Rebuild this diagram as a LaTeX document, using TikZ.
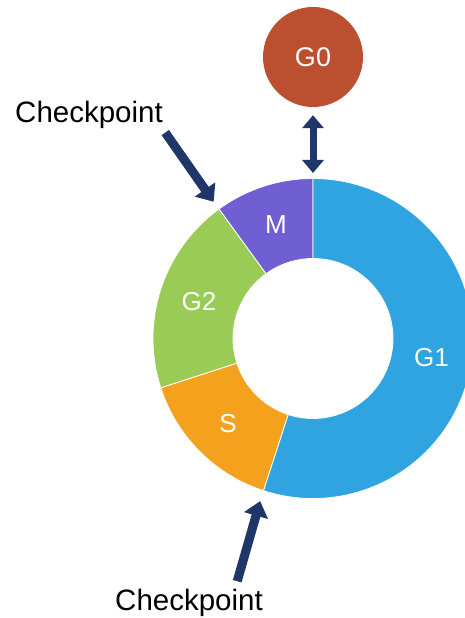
\documentclass[tikz,border=0pt]{standalone}
\usepackage{fontspec}
\setmainfont{Liberation Sans}
\usetikzlibrary{arrows.meta}
\definecolor{ringM}{RGB}{112,94,211}
\definecolor{ringGtwo}{RGB}{155,203,87}
\definecolor{ringS}{RGB}{244,162,30}
\definecolor{ringGone}{RGB}{48,164,224}
\definecolor{gzerocol}{RGB}{187,79,48}
\definecolor{navy}{RGB}{30,54,104}
\tikzstyle{seg} = [draw=white, line width=0.8pt]
\tikzstyle{lbl} = [text=white, font=\fontsize{26}{26}\selectfont]
\tikzstyle{gzero} = [circle, fill=gzerocol, minimum size=100pt, inner sep=0pt, text=white, font=\fontsize{27}{27}\selectfont]
\tikzstyle{cp} = [inner sep=0pt, font=\fontsize{29.5}{30}\selectfont]
\tikzstyle{bigarrow} = [draw=navy, line width=9pt, -{Triangle[width=24pt,length=15pt]}]
\tikzstyle{dblarrow} = [draw=navy, line width=7pt, {Triangle[width=21pt,length=13pt]}-{Triangle[width=21pt,length=13pt]}]

\begin{document}
\begin{tikzpicture}[x=1pt, y=1pt]
	\useasboundingbox (0,0) rectangle (465,618);
	\clip (0,0) rectangle (465,618);
	\coordinate (ring) at (313,279.5);

	\foreach \a/\b/\c in {90/126/ringM, 126/198/ringGtwo, 198/252/ringS, 252/450/ringGone}{
		\filldraw[seg, fill=\c] ([shift={(\a:160)}]ring) arc[start angle=\a, end angle=\b, radius=160]
			-- ([shift={(\b:80)}]ring) arc[start angle=\b, end angle=\a, radius=80] -- cycle;
	}
	\foreach \n/\m/\t in {lblM/108/M, lblGtwo/162/G2, lblS/225/S, lblGone/351/G1}{
		\node[lbl] (\n) at ([shift={(\m:120)}]ring) {\t};
	}

	\node[gzero] (g0) at ([yshift=281.5]ring) {G0};
	\coordinate (ringtop) at ([yshift=160]ring);
	\draw[dblarrow, shorten <=8pt, shorten >=5.5pt] (g0.south) -- (ringtop);

	\node[cp, anchor=base] (cptop) at (89,495) {Checkpoint};
	\node[cp, anchor=base] (cpbot) at (189,7.5) {Checkpoint};
	\coordinate (markM) at ([shift={(126:169)}]ring);
	\coordinate (markS) at ([shift={(252:171)}]ring);
	\draw[bigarrow, shorten <=4pt] (cptop.south east) -- (markM);
	\draw[bigarrow, shorten <=8pt] ([xshift=46pt]cpbot.north) -- (markS);
\end{tikzpicture}
\end{document}
